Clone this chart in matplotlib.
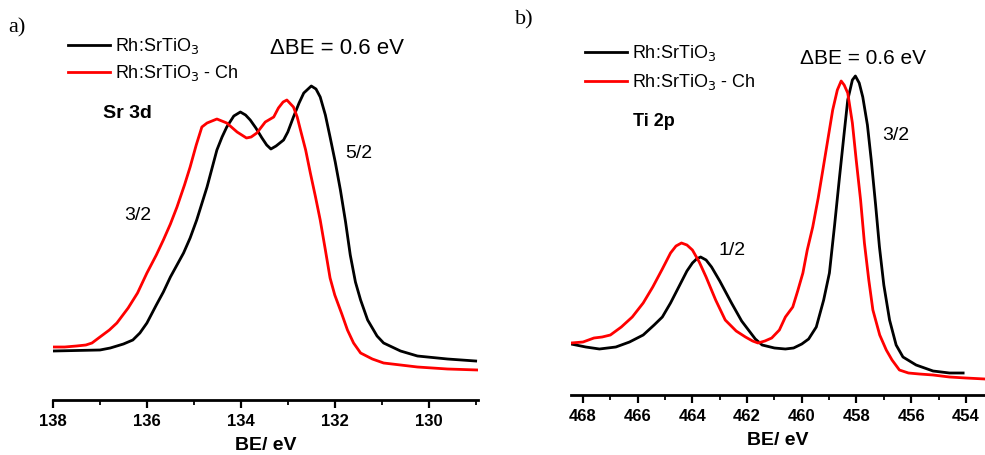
import matplotlib
matplotlib.use("Agg")
import matplotlib.pyplot as plt
from matplotlib.ticker import MultipleLocator

plt.rcParams['font.family'] = ['Liberation Sans', 'DejaVu Sans']

# ---------------- Panel a: Sr 3d ----------------
sr_be_black = [138.0, 137.5, 137.0, 136.78, 136.5, 136.3, 136.15, 136.0, 135.8, 135.65, 135.5,
               135.22, 135.08, 134.94, 134.72, 134.51, 134.4, 134.3, 134.15, 134.01, 133.9,
               133.8, 133.68, 133.55, 133.45, 133.36, 133.25, 133.09, 133.0, 132.88, 132.76,
               132.66, 132.5, 132.4, 132.31, 132.2, 132.1, 131.99, 131.88, 131.77, 131.67,
               131.56, 131.45, 131.3, 131.1, 130.96, 130.6, 130.24, 129.6, 129.0]
sr_int_black = [49, 49.5, 50, 52, 56, 60, 67, 77, 95, 108, 123,
                147, 162, 180, 213, 250, 263, 273, 284, 288, 285,
                280, 272, 262, 255, 251, 254, 260, 268, 283, 297,
                307, 314, 311, 303, 285, 263, 238, 210, 178, 145,
                118, 100, 80, 64, 57, 49, 44, 41, 39]

sr_be_red = [138.0, 137.75, 137.5, 137.3, 137.17, 137.0, 136.8, 136.64, 136.4, 136.2, 136.0,
             135.8, 135.65, 135.5, 135.36, 135.2, 135.08, 134.95, 134.83, 134.72, 134.51,
             134.3, 134.08, 133.88, 133.78, 133.66, 133.48, 133.3, 133.2, 133.1, 133.02,
             132.88, 132.8, 132.73, 132.62, 132.52, 132.41, 132.31, 132.2, 132.1, 132.0,
             131.85, 131.73, 131.6, 131.45, 131.2, 130.96, 130.6, 130.24, 129.6, 128.95]
sr_int_red = [53, 53, 54, 55, 57, 63, 70, 77, 92, 107, 127,
              145, 160, 176, 193, 215, 233, 255, 273, 277, 281,
              277, 268, 262, 263, 267, 278, 283, 292, 298, 300,
              293, 283, 270, 250, 227, 203, 180, 150, 122, 105,
              86, 70, 57, 47, 41, 37, 35, 33, 31, 30]

# ---------------- Panel b: Ti 2p ----------------
ti_be_black = [468.44, 467.9, 467.4, 466.8, 466.3, 465.8, 465.4, 465.1, 464.8, 464.5, 464.2,
               464.0, 463.85, 463.7, 463.5, 463.3, 463.0, 462.57, 462.2, 461.95, 461.7,
               461.45, 461.0, 460.6, 460.3, 460.0, 459.75, 459.47, 459.2, 458.99, 458.8,
               458.62, 458.45, 458.32, 458.15, 458.04, 457.9, 457.77, 457.6, 457.46, 457.3,
               457.16, 457.0, 456.79, 456.55, 456.3, 455.82, 455.2, 454.6, 454.1]
ti_int_black = [51, 48, 46, 48, 53, 60, 70, 78, 92, 108, 124,
                132, 136, 138, 135, 128, 114, 92, 74, 65, 56,
                50, 47, 46, 47, 51, 56, 68, 95, 122, 170,
                218, 262, 295, 315, 319, 312, 298, 270, 235, 190,
                148, 110, 75, 50, 38, 30, 24, 22, 22]

ti_be_red = [468.44, 468.0, 467.6, 467.3, 467.0, 466.6, 466.2, 465.8, 465.45, 465.1, 464.8,
             464.6, 464.4, 464.2, 464.0, 463.75, 463.5, 463.15, 462.8, 462.4, 462.06,
             461.8, 461.6, 461.35, 461.1, 460.82, 460.6, 460.33, 460.15, 459.96, 459.8,
             459.6, 459.4, 459.23, 459.05, 458.87, 458.7, 458.56, 458.45, 458.32, 458.15,
             458.01, 457.85, 457.71, 457.55, 457.4, 457.15, 456.91, 456.7, 456.43, 456.1,
             455.7, 455.2, 454.6, 454.0, 453.3]
ti_int_red = [52, 53, 57, 58, 60, 68, 78, 92, 108, 126, 142,
              149, 152, 150, 145, 133, 118, 95, 75, 64, 58,
              54, 52, 54, 57, 65, 78, 88, 104, 122, 145,
              168, 197, 225, 255, 285, 305, 314, 310, 302, 272,
              235, 195, 152, 115, 85, 60, 45, 35, 25, 22,
              21, 20, 18, 17, 16]

series_labels = [r"Rh:SrTiO$_3$", r"Rh:SrTiO$_3$ - Ch"]
sr_ticks = [138, 136, 134, 132, 130]
ti_ticks = [468, 466, 464, 462, 460, 458, 456, 454]

W, H = 985, 455
fig = plt.figure(figsize=(W / 100, H / 100), dpi=100)


def px_axes(l, r, b, t):
    return fig.add_axes([l / W, 1 - b / H, (r - l) / W, (b - t) / H])


def style(ax, ticks):
    for s in ("left", "top", "right"):
        ax.spines[s].set_visible(False)
    ax.spines["bottom"].set_linewidth(2.0)
    ax.set_yticks([])
    ax.set_xticks(ticks)
    ax.xaxis.set_minor_locator(MultipleLocator(1))
    ax.tick_params(axis="x", which="major", direction="out", length=6, width=1.6,
                   labelsize=12, pad=4)
    ax.tick_params(axis="x", which="minor", direction="out", length=3.5, width=1.3)
    for lab in ax.get_xticklabels():
        lab.set_fontweight("bold")
    ax.set_xlabel("BE/ eV", fontsize=14, fontweight="bold", labelpad=6)
    ax.patch.set_alpha(0)


# Panel a
ax1 = px_axes(53, 478, 400, 20)
l1, = ax1.plot(sr_be_black, sr_int_black, color="black", lw=2.0)
l2, = ax1.plot(sr_be_red, sr_int_red, color="#ff0000", lw=2.0)
ax1.set_xlim(138, 128.95)
ax1.set_ylim(0, 380)
style(ax1, sr_ticks)
ax1.legend([l1, l2], series_labels, loc="upper left",
           bbox_to_anchor=(68 / W, 1 - 36 / H), bbox_transform=fig.transFigure,
           frameon=False, fontsize=13, handlelength=2.3, handletextpad=0.3,
           labelspacing=0.38, borderaxespad=0, borderpad=0)
fig.text(270 / W, 1 - 48 / H, "ΔBE = 0.6 eV", fontsize=16, va="center", ha="left")
fig.text(103 / W, 1 - 113 / H, "Sr 3d", fontsize=14, fontweight="bold", va="center", ha="left")
fig.text(345 / W, 1 - 153 / H, "5/2", fontsize=14, va="center", ha="left")
fig.text(124 / W, 1 - 215 / H, "3/2", fontsize=14, va="center", ha="left")
fig.text(8 / W, 1 - 28 / H, "a)", fontsize=16, family="Liberation Serif", va="center", ha="left")

# Panel b
ax2 = px_axes(571, 985, 395, 20)
l3, = ax2.plot(ti_be_black, ti_int_black, color="black", lw=2.0)
l4, = ax2.plot(ti_be_red, ti_int_red, color="#ff0000", lw=2.0)
ax2.set_xlim(468.44, 453.3)
ax2.set_ylim(0, 375)
style(ax2, ti_ticks)
ax2.legend([l3, l4], series_labels, loc="upper left",
           bbox_to_anchor=(585 / W, 1 - 43 / H), bbox_transform=fig.transFigure,
           frameon=False, fontsize=13, handlelength=2.3, handletextpad=0.3,
           labelspacing=0.52, borderaxespad=0, borderpad=0)
fig.text(800 / W, 1 - 58 / H, "ΔBE = 0.6 eV", fontsize=15, va="center", ha="left")
fig.text(633 / W, 1 - 122 / H, "Ti 2p", fontsize=13, fontweight="bold", va="center", ha="left")
fig.text(882 / W, 1 - 135 / H, "3/2", fontsize=14, va="center", ha="left")
fig.text(718 / W, 1 - 250 / H, "1/2", fontsize=14, va="center", ha="left")
fig.text(515 / W, 1 - 20 / H, "b)", fontsize=16, family="Liberation Serif", va="center", ha="left")

fig.savefig("out.png", dpi=100)
